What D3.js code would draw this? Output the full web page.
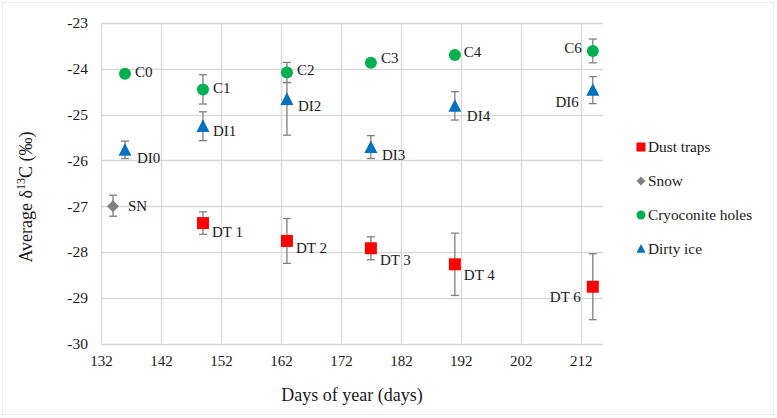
<!DOCTYPE html>
<html>
<head>
<meta charset="utf-8">
<script src="https://cdn.jsdelivr.net/npm/d3@7"></script>
<style>
  html, body { margin: 0; padding: 0; background: #fff; }
  svg { display: block; }
</style>
</head>
<body>
<svg id="chart" width="777" height="418"></svg>
<script>
// ---- data ----
const seriesNames = ["Dust traps", "Snow", "Cryoconite holes", "Dirty ice"];

const dustLabels = ["DT 1", "DT 2", "DT 3", "DT 4", "DT 6"];
const dustDays   = [149, 163, 177, 191, 214];
const dustValues = [-27.37, -27.76, -27.92, -28.27, -28.76];
const dustErrPlus  = [0.245, 0.49, 0.25, 0.68, 0.72];
const dustErrMinus = [0.245, 0.49, 0.25, 0.68, 0.72];

const snowLabels = ["SN"];
const snowDays   = [134];
const snowValues = [-27.0];
const snowErrPlus  = [0.24];
const snowErrMinus = [0.22];

const cryoLabels = ["C0", "C1", "C2", "C3", "C4", "C6"];
const cryoDays   = [136, 149, 163, 177, 191, 214];
const cryoValues = [-24.11, -24.45, -24.08, -23.87, -23.70, -23.61];
const cryoErrPlus  = [0, 0.32, 0.22, 0, 0, 0.26];
const cryoErrMinus = [0, 0.32, 0.22, 0, 0, 0.26];

const iceLabels = ["DI0", "DI1", "DI2", "DI3", "DI4", "DI6"];
const iceDays   = [136, 149, 163, 177, 191, 214];
const iceValues = [-25.78, -25.26, -24.67, -25.72, -24.82, -24.47];
const iceErrPlus  = [0.20, 0.32, 0.37, 0.26, 0.32, 0.30];
const iceErrMinus = [0.18, 0.31, 0.78, 0.24, 0.30, 0.29];

const xTicks = [132, 142, 152, 162, 172, 182, 192, 202, 212];
const yTicks = [-23, -24, -25, -26, -27, -28, -29, -30];

// ---- label placement (pixel offsets from marker: dx, dy, anchor) ----
const placeDust = [[9, 9, "start"], [9, 7, "start"], [9, 11, "start"], [9, 10, "start"], [-12, 10, "end"]];
const placeSnow = [[15, 0, "start"]];
const placeCryo = [[10, -2, "start"], [10, -2, "start"], [10, -3, "start"], [10, -5, "start"], [9, -3, "start"], [-11, -3, "end"]];
const placeIce  = [[12, 7, "start"], [10, 4, "start"], [11, 6, "start"], [11, 7, "start"], [12, 9, "start"], [-14, 11, "end"]];

// ---- layout ----
const FONT = "'Liberation Serif', 'Times New Roman', Times, serif";
const svg = d3.select("#chart");
const W = 777, H = 418;
const plot = { left: 101, right: 603, top: 23, bottom: 343.5 };

svg.append("rect").attr("x", 2.5).attr("y", 2.5).attr("width", W - 6).attr("height", H - 6)
  .attr("fill", "#fff").attr("stroke", "#ececec").attr("stroke-width", 1);

const x = d3.scaleLinear().domain([132, 215.7]).range([plot.left, plot.right]);
const y = d3.scaleLinear().domain([-30, -23]).range([plot.bottom, plot.top]);

const grid = svg.append("g");
grid.selectAll("line.h").data(yTicks).join("line")
  .attr("x1", plot.left).attr("x2", plot.right)
  .attr("y1", d => Math.round(y(d)) + 0.5).attr("y2", d => Math.round(y(d)) + 0.5)
  .attr("stroke", "#d9d9d9").attr("stroke-width", 1.3);
grid.selectAll("line.v").data(xTicks).join("line")
  .attr("y1", plot.top).attr("y2", plot.bottom)
  .attr("x1", d => Math.round(x(d)) + 0.5).attr("x2", d => Math.round(x(d)) + 0.5)
  .attr("stroke", "#d9d9d9").attr("stroke-width", 1.3);

// axes via d3 axis generators (no domain lines / ticks shown)
const xAxis = svg.append("g").attr("transform", `translate(0,${plot.bottom})`)
  .call(d3.axisBottom(x).tickValues(xTicks).tickSize(0).tickPadding(12).tickFormat(d3.format("d")));
xAxis.select(".domain").remove();
xAxis.attr("font-family", null);
xAxis.selectAll("text").attr("font-size", 15).style("font-family", FONT).attr("fill", "#1a1a1a");

const yAxis = svg.append("g").attr("transform", `translate(${plot.left},0)`)
  .call(d3.axisLeft(y).tickValues(yTicks).tickSize(0).tickPadding(13).tickFormat(d => d));
yAxis.select(".domain").remove();
yAxis.attr("font-family", null);
yAxis.selectAll("text").attr("font-size", 15.5).style("font-family", FONT).attr("fill", "#1a1a1a");

// axis titles
svg.append("text").attr("x", (plot.left + plot.right) / 2).attr("y", 401)
  .attr("text-anchor", "middle").attr("font-size", 18).style("font-family", FONT).attr("fill", "#1a1a1a")
  .text("Days of year (days)");

const yt = svg.append("text").attr("transform", "translate(32,197) rotate(-90)")
  .attr("text-anchor", "middle").attr("font-size", 18).style("font-family", FONT).attr("fill", "#1a1a1a");
yt.append("tspan").text("Average δ");
yt.append("tspan").attr("font-size", 12).attr("dy", -7).text("13");
yt.append("tspan").attr("dy", 7).text("C (‰)");

// ---- series ----
const series = [
  { name: seriesNames[0], labels: dustLabels, days: dustDays, vals: dustValues, ep: dustErrPlus, em: dustErrMinus, place: placeDust, color: "#ff0000", shape: "square" },
  { name: seriesNames[1], labels: snowLabels, days: snowDays, vals: snowValues, ep: snowErrPlus, em: snowErrMinus, place: placeSnow, color: "#808080", shape: "diamond" },
  { name: seriesNames[2], labels: cryoLabels, days: cryoDays, vals: cryoValues, ep: cryoErrPlus, em: cryoErrMinus, place: placeCryo, color: "#00b050", shape: "circle" },
  { name: seriesNames[3], labels: iceLabels, days: iceDays, vals: iceValues, ep: iceErrPlus, em: iceErrMinus, place: placeIce, color: "#0070c0", shape: "triangle" }
];

function shapePath(shape, s) {
  if (shape === "square") return `M${-s/2},${-s/2}h${s}v${s}h${-s}Z`;
  if (shape === "diamond") return `M0,${-s/2}L${s/2},0L0,${s/2}L${-s/2},0Z`;
  if (shape === "triangle") return `M0,${-s*0.55}L${s/2},${s*0.42}L${-s/2},${s*0.42}Z`;
  return null;
}

const capW = 4;
series.forEach(sr => {
  const pts = sr.days.map((d, i) => ({ d, v: sr.vals[i], ep: sr.ep[i], em: sr.em[i], lab: sr.labels[i], pl: sr.place[i] }));
  const g = svg.append("g");
  // error bars
  const eb = g.selectAll("g.eb").data(pts.filter(p => p.ep > 0 || p.em > 0)).join("g")
    .attr("stroke", "#7f7f7f").attr("stroke-width", 1.3);
  eb.append("line").attr("x1", p => x(p.d)).attr("x2", p => x(p.d))
    .attr("y1", p => y(p.v + p.ep)).attr("y2", p => y(p.v - p.em));
  eb.append("line").attr("x1", p => x(p.d) - capW).attr("x2", p => x(p.d) + capW)
    .attr("y1", p => y(p.v + p.ep)).attr("y2", p => y(p.v + p.ep));
  eb.append("line").attr("x1", p => x(p.d) - capW).attr("x2", p => x(p.d) + capW)
    .attr("y1", p => y(p.v - p.em)).attr("y2", p => y(p.v - p.em));
  // markers
  if (sr.shape === "circle") {
    g.selectAll("circle").data(pts).join("circle")
      .attr("cx", p => x(p.d)).attr("cy", p => y(p.v)).attr("r", 6).attr("fill", sr.color);
  } else {
    const size = sr.shape === "square" ? 12 : sr.shape === "diamond" ? 12 : 13;
    g.selectAll("path.m").data(pts).join("path")
      .attr("transform", p => `translate(${x(p.d)},${y(p.v)})`)
      .attr("d", shapePath(sr.shape, size)).attr("fill", sr.color);
  }
  // labels
  g.selectAll("text").data(pts).join("text")
    .attr("x", p => x(p.d) + p.pl[0]).attr("y", p => y(p.v) + p.pl[1])
    .attr("dy", "0.35em").attr("text-anchor", p => p.pl[2])
    .attr("font-size", 15).style("font-family", FONT).attr("fill", "#1a1a1a").text(p => p.lab);
});

// ---- legend ----
const leg = svg.append("g").attr("transform", "translate(641,147)");
series.forEach((sr, i) => {
  const row = leg.append("g").attr("transform", `translate(0,${i * 34})`);
  if (sr.shape === "circle") row.append("circle").attr("r", 4.5).attr("fill", sr.color);
  else row.append("path").attr("d", shapePath(sr.shape, 9)).attr("fill", sr.color);
  row.append("text").attr("x", 7).attr("dy", "0.35em").attr("font-size", 15.3)
    .style("font-family", FONT).attr("fill", "#1a1a1a").text(sr.name);
});
</script>
</body>
</html>
